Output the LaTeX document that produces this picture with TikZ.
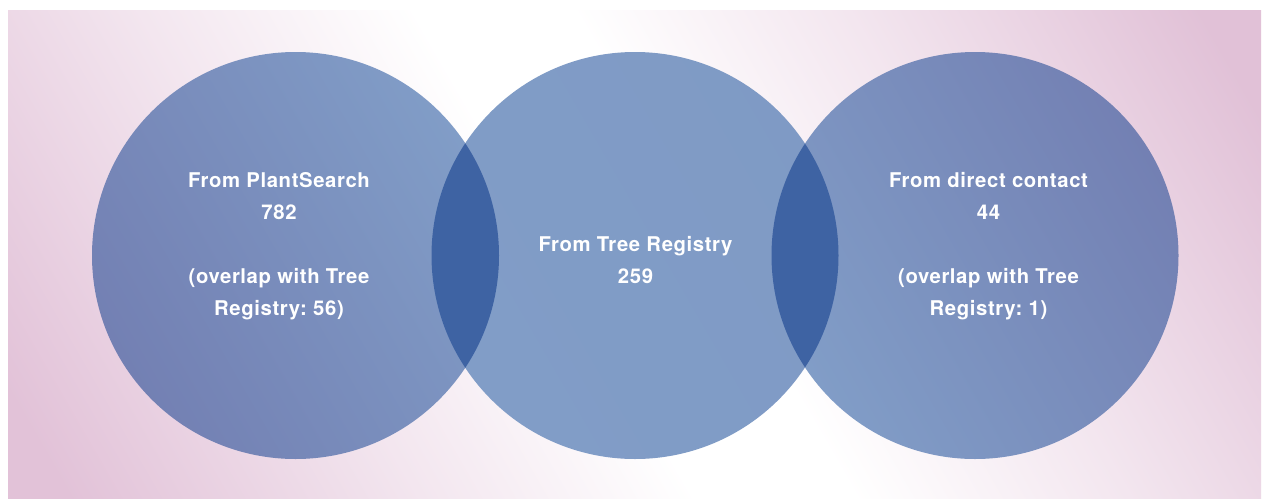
\documentclass[tikz,border=0pt]{standalone}
\usepackage{fontspec}
\setmainfont{TeX Gyre Heros}[LetterSpace=3]
\frenchspacing
\definecolor{bgpinkA}{HTML}{E2C2D8}
\definecolor{bgpinkB}{HTML}{E1C1D7}
\definecolor{bgpinkL}{HTML}{F3E6EF}
\definecolor{cdark}{HTML}{7380B3}
\definecolor{clight}{HTML}{819DC7}
\definecolor{cmid}{HTML}{809CC6}
\definecolor{lens}{HTML}{3E63A3}
\pgfdeclarehorizontalshading{bgshade}{100bp}{color(0bp)=(bgpinkA); color(32bp)=(bgpinkA); color(41bp)=(bgpinkL); color(48bp)=(white); color(52bp)=(white); color(59bp)=(bgpinkL); color(68bp)=(bgpinkB); color(100bp)=(bgpinkB)}
\tikzset{
  lbl/.style={text=white, anchor=base, inner sep=0pt, font=\bfseries\fontsize{20.3}{32}\selectfont},
}
\begin{document}
\begin{tikzpicture}[x=1pt,y=-1pt]
\useasboundingbox (0,0) rectangle (1263,501);
\fill[white] (0,0) rectangle (1263,501);
\coordinate (bgc) at (634.5,254);
\begin{scope}
  \clip (8,10) rectangle (1261,498);
  \begin{scope}[transform canvas={rotate around={30:(bgc)}}]
    \shade[shading=bgshade]
      (634.5-850,254-850) rectangle (634.5+850,254+850);
  \end{scope}
\end{scope}
\coordinate (cA) at (295.5,255.5);
\coordinate (cB) at (635,255.5);
\coordinate (cC) at (975,255.5);
\def\R{203.5}
% circles
\shade[left color=cdark, right color=clight, shading angle=120] (cA) circle[radius=\R];
\shade[left color=clight, right color=cmid!94!cdark, shading angle=120] (cB) circle[radius=\R];
\shade[left color=clight, right color=cdark, shading angle=120] (cC) circle[radius=\R];
% lenses
\begin{scope}
  \clip (cA) circle[radius=\R];
  \fill[lens] (cB) circle[radius=\R];
\end{scope}
\begin{scope}
  \clip (cC) circle[radius=\R];
  \fill[lens] (cB) circle[radius=\R];
\end{scope}
% labels
\node[lbl] (a1) at (279,187) {From PlantSearch};
\node[lbl] (a2) at (279,219) {782};
\node[lbl] (a3) at (279,283) {(overlap with Tree};
\node[lbl] (a4) at (279,315) {Registry: 56)};
\node[lbl] (b1) at (635.5,251) {From Tree Registry};
\node[lbl] (b2) at (635.5,283) {259};
\node[lbl] (c1) at (988.5,187) {From direct contact};
\node[lbl] (c2) at (988.5,219) {44};
\node[lbl] (c3) at (988.5,283) {(overlap with Tree};
\node[lbl] (c4) at (988.5,315) {Registry: 1)};
\end{tikzpicture}
\end{document}
